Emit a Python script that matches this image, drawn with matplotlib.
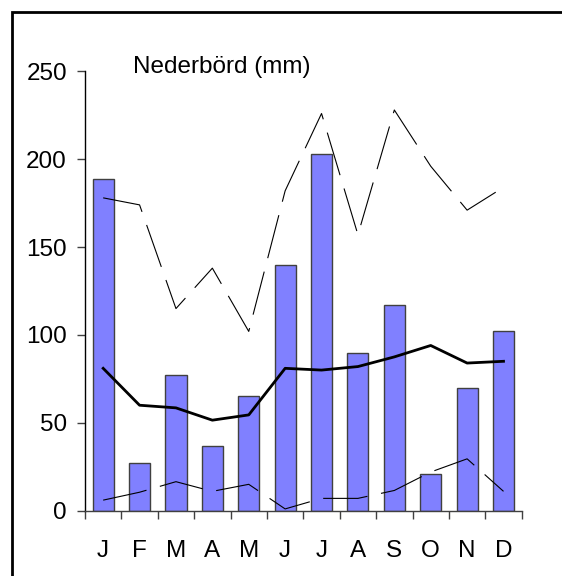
import numpy as np
import matplotlib
matplotlib.use('Agg')
import matplotlib.pyplot as plt
from matplotlib.patches import Rectangle

plt.rcParams['font.family'] = ['Liberation Sans', 'DejaVu Sans']
plt.rcParams['lines.scale_dashes'] = False

# Monthly precipitation (mm)
months = ['J', 'F', 'M', 'A', 'M', 'J', 'J', 'A', 'S', 'O', 'N', 'D']
rain = [189, 27, 77, 37, 65, 140, 203, 90, 117, 21, 70, 102]
mean_rain = [81, 60, 58.5, 51.5, 54.5, 81, 80, 82, 87.5, 94, 84, 85]
max_rain = [178, 174, 115, 138, 102, 182, 226, 157, 228, 196, 171, 184]
min_rain = [6, 10.5, 16.5, 11, 15, 1, 7, 7, 11.5, 22, 29.5, 11]

fig = plt.figure(figsize=(5.62, 5.76), dpi=100)
ax = fig.add_axes([0.1512, 0.1134, 0.7771, 0.7628])

x = np.arange(len(months)) + 0.5
ax.bar(x, rain, width=0.58, color='#8080ff', edgecolor='#404040', linewidth=1.0, zorder=2)
ax.plot(x, mean_rain, color='black', linewidth=2.0, zorder=3)
ax.plot(x, max_rain, color='black', linewidth=0.8, dashes=(32, 10), zorder=3)
ax.plot(x, min_rain, color='black', linewidth=0.8, dashes=(32, 10), zorder=3)

ax.set_xlim(0, 12)
ax.set_ylim(0, 250)
ax.set_yticks([0, 50, 100, 150, 200, 250])
ax.set_xticks(np.arange(13))
ax.set_xticklabels([])
ax.set_xticks(x, minor=True)
ax.set_xticklabels(months, minor=True)
ax.tick_params(axis='x', which='major', length=6, width=1, color='#404040', direction='out')
ax.tick_params(axis='x', which='minor', length=0, labelsize=17.5, pad=21)
ax.tick_params(axis='y', length=6, width=1, color='#404040', labelsize=17.5, pad=7)

for s in ['top', 'right']:
    ax.spines[s].set_visible(False)
ax.spines['left'].set_linewidth(1)
ax.spines['bottom'].set_color('#404040')
ax.spines['bottom'].set_linewidth(1)

ax.text(0.11, 1.009, 'Nederbörd (mm)', transform=ax.transAxes, fontsize=17.5,
        ha='left', va='center')

# outer frame
fig.patches.append(Rectangle((12 / 562, -0.1), 1.1, 1 - 12 / 576 + 0.1,
                             transform=fig.transFigure, fill=False,
                             edgecolor='black', linewidth=2))

fig.savefig('out.png', dpi=100)
